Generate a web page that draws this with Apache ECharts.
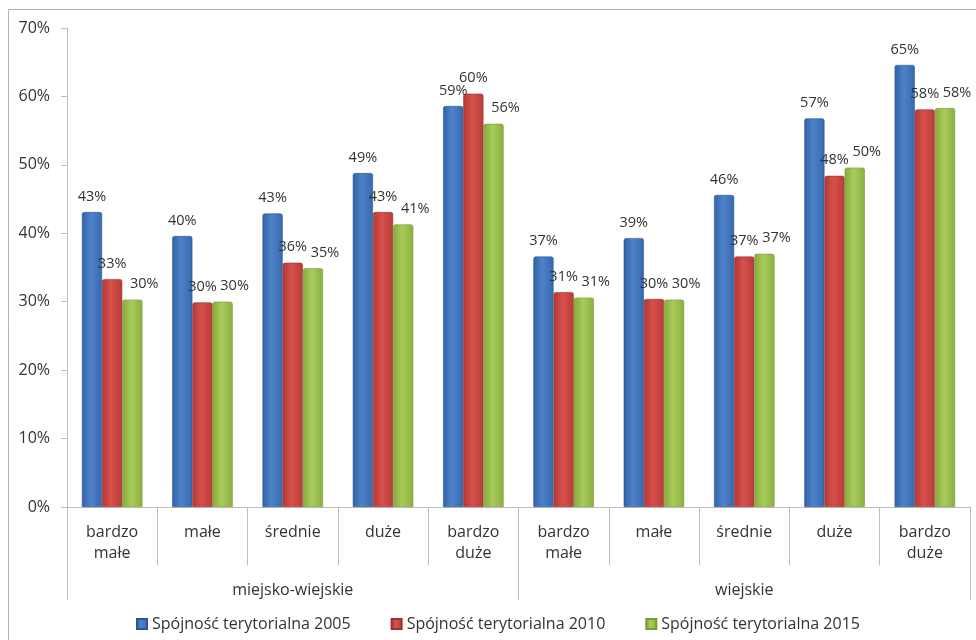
<!DOCTYPE html>
<html>
<head>
<meta charset="utf-8">
<title>Spójność terytorialna</title>
<script src="https://cdn.jsdelivr.net/npm/echarts@6/dist/echarts.min.js"></script>
<style>
  html, body { margin: 0; padding: 0; background: #ffffff; }
  #chart { width: 976px; height: 640px; }
</style>
</head>
<body>
<div id="chart"></div>
<script>
// Size classes of municipalities, repeated for both municipality types
const sizeClasses = ['bardzo\nmałe', 'małe', 'średnie', 'duże', 'bardzo\nduże'];
const gminaTypes = ['miejsko-wiejskie', 'wiejskie'];

// Share (%) per size class — miejsko-wiejskie
const mw2005 = [43.1, 39.6, 42.9, 48.8, 58.6];
const mw2010 = [33.3, 29.9, 35.7, 43.1, 60.4];
const mw2015 = [30.3, 30.0, 34.9, 41.3, 56.0];

// Share (%) per size class — wiejskie
const w2005 = [36.6, 39.3, 45.6, 56.8, 64.6];
const w2010 = [31.4, 30.4, 36.6, 48.4, 58.1];
const w2015 = [30.6, 30.3, 37.0, 49.6, 58.3];

const seriesNames = ['Spójność terytorialna 2005', 'Spójność terytorialna 2010', 'Spójność terytorialna 2015'];
const yTicks = { min: 0, max: 70, step: 10 };

const categories = sizeClasses.concat(sizeClasses);
const seriesValues = [mw2005.concat(w2005), mw2010.concat(w2010), mw2015.concat(w2015)];

const textColor = '#333333';
const axisGray = '#bfbfbf';
const fontFamily = '"Open Sans", "DejaVu Sans", sans-serif';

function glossy(edge, mid, edge2) {
  return new echarts.graphic.LinearGradient(0, 0, 1, 0, [
    { offset: 0, color: edge },
    { offset: 0.45, color: mid },
    { offset: 1, color: edge2 }
  ]);
}

const palettes = [
  { fill: glossy('#3262a6', '#4d82c9', '#3768ad'), border: '#2c5793' },
  { fill: glossy('#b13835', '#d7504c', '#b83c39'), border: '#9c3331' },
  { fill: glossy('#86a93c', '#a8cc5a', '#8cb040'), border: '#7a9a36' }
];
const labelShift = [[0, 0], [0, 0], [12, 0]];

const chart = echarts.init(document.getElementById('chart'), null, { renderer: 'canvas' });

chart.setOption({
  animation: false,
  textStyle: { fontFamily: fontFamily },
  graphic: [{
    type: 'rect',
    shape: { x: 8.5, y: 9.5, width: 1000, height: 1000 },
    style: { fill: 'none', stroke: '#b4b4b4', lineWidth: 1 },
    silent: true
  }],
  grid: { left: 67, right: 6, top: 28, bottom: 133, containLabel: false },
  legend: {
    bottom: 3,
    left: 131,
    itemWidth: 10,
    itemHeight: 10,
    itemGap: 40,
    icon: 'rect',
    textStyle: { fontSize: 16, color: textColor, fontFamily: fontFamily },
    data: seriesNames
  },
  xAxis: [{
    type: 'category',
    data: categories,
    axisLine: { show: true, lineStyle: { color: axisGray, width: 1 } },
    axisTick: { show: true, interval: 0, length: 58, alignWithLabel: false, lineStyle: { color: axisGray } },
    axisLabel: { interval: 0, fontSize: 16, lineHeight: 21, margin: 15, color: textColor, fontFamily: fontFamily },
    splitLine: { show: false }
  }, {
    type: 'category',
    data: gminaTypes,
    position: 'bottom',
    axisLine: { show: false },
    axisTick: { show: true, interval: 0, length: 93, alignWithLabel: false, lineStyle: { color: axisGray } },
    axisLabel: { interval: 0, fontSize: 16, margin: 75, color: textColor, fontFamily: fontFamily },
    splitLine: { show: false }
  }],
  yAxis: {
    type: 'value',
    min: yTicks.min,
    max: yTicks.max,
    interval: yTicks.step,
    axisLine: { show: true, lineStyle: { color: axisGray, width: 1 } },
    axisTick: { show: true, length: 6, lineStyle: { color: axisGray } },
    splitLine: { show: false },
    axisLabel: { formatter: '{value}%', fontSize: 16, margin: 17, color: textColor, fontFamily: fontFamily }
  },
  series: seriesNames.map((name, i) => ({
    name: name,
    type: 'bar',
    xAxisIndex: 0,
    data: seriesValues[i],
    barGap: '0%',
    barCategoryGap: '33%',
    itemStyle: {
      color: palettes[i].fill,
      borderColor: palettes[i].border,
      borderWidth: 0.6,
      borderRadius: [2, 2, 0, 0]
    },
    label: {
      show: true,
      position: 'top',
      distance: 8,
      offset: labelShift[i],
      fontSize: 14.5,
      color: textColor,
      fontFamily: fontFamily,
      formatter: p => Math.round(p.value) + '%'
    }
  }))
});
</script>
</body>
</html>
